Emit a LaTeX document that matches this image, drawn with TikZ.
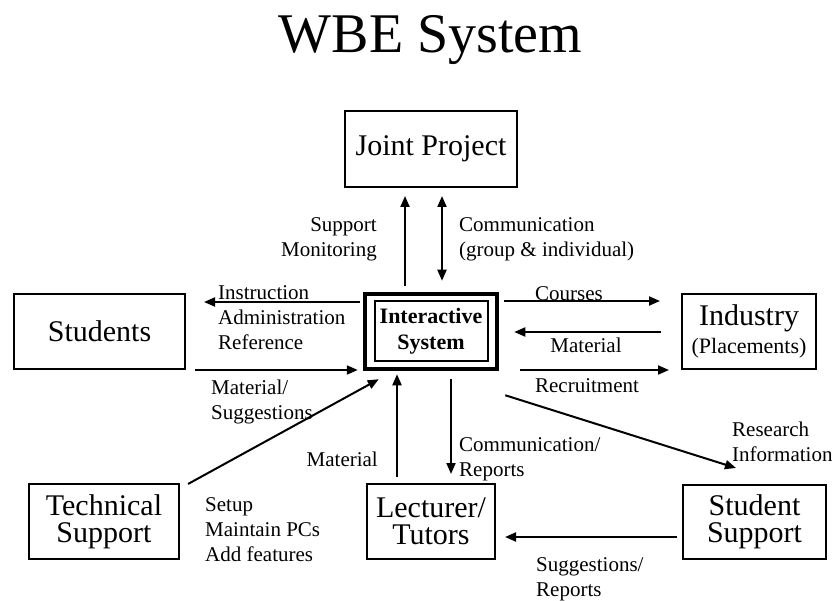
\documentclass[tikz,border=0pt]{standalone}
\usepackage{fontspec}
\setmainfont{Liberation Serif}
\usetikzlibrary{arrows.meta,calc}
\begin{document}
\begin{tikzpicture}[x=1pt,y=-1pt,
  box/.style={draw,line width=2pt,inner sep=0pt,align=center,font=\fontsize{30}{30}\selectfont},
  arr/.style={line width=2pt,-{Triangle[length=11pt,width=9pt]}},
  darr/.style={line width=2pt,{Triangle[length=11pt,width=9pt]}-{Triangle[length=11pt,width=9pt]}},
  lbl/.style={inner sep=0pt,font=\fontsize{21}{25}\selectfont}]
\useasboundingbox[fill=white] (0,0) rectangle (832,601);
% title
\node[inner sep=0pt,font=\fontsize{56}{56}\selectfont,anchor=base] (title) at (430.5,53) {WBE System};
% boxes
\node[box,minimum width=172pt,minimum height=76pt] (jp) at (431,149) {Joint Project};
\node[box,minimum width=171pt,minimum height=75pt] (st) at (99.5,331.5) {Students};
\node[box,minimum width=134pt,minimum height=75pt] (ind) at (749,331.5) {Industry\\[-2pt]{\fontsize{22}{22}\selectfont (Placements)}};
\node[box,minimum width=150pt,minimum height=75pt] (ts) at (104,521.5) {Technical\\[-3pt]Support};
\node[box,minimum width=128pt,minimum height=75pt] (lt) at (431,521.5) {Lecturer/\\[-3pt]Tutors};
\node[box,minimum width=143pt,minimum height=74pt] (ss) at (754.5,522) {Student\\[-3pt]Support};
% central
\node[draw,line width=4.5pt,minimum width=132pt,minimum height=75pt,inner sep=0pt] (ctr) at (431,331.5) {};
\node[draw,line width=2pt,minimum width=113pt,minimum height=60pt,inner sep=0pt,align=center,
  font=\fontsize{22}{26}\selectfont\bfseries] (ctrin) at (431,331) {Interactive\\System};
% arrows
\draw[arr] ($(ctr.north)+(-26,-6)$) -- ($(jp.south)+(-26,8)$);
\draw[darr] ($(jp.south)+(11,8)$) -- ($(ctr.north)+(11,-11)$);
\draw[arr] ($(ctr.west)+(-3,-29.5)$) -- ($(st.east)+(18,-29.5)$);
\draw[arr] ($(st.east)+(9,38.5)$) -- ($(ctr.west)+(-5,38.5)$);
\draw[arr] ($(ctr.east)+(5,-30.5)$) -- ($(ind.west)+(-21,-30.5)$);
\draw[arr] ($(ind.west)+(-20,0.5)$) -- ($(ctr.east)+(15,0.5)$);
\draw[arr] ($(ctr.east)+(21,38.5)$) -- ($(ind.west)+(-12,38.5)$);
\draw[arr] ($(ctr.south east)+(6,24)$) -- ($(ss.north west)+(54,-16)$);
\draw[arr] ($(ctr.south)+(20,8)$) -- ($(lt.north)+(20,-9)$);
\draw[arr] ($(lt.north)+(-34,-6)$) -- ($(ctr.south)+(-34,3)$);
\draw[arr] ($(ts.north east)+(8,1)$) -- ($(ctr.south west)+(16,8)$);
\draw[arr] ($(ss.west)+(-5,15)$) -- ($(lt.east)+(9,15.5)$);
% labels
\node[lbl,anchor=north east,align=right] (l1) at (377,217) {Support\\Monitoring};
\node[lbl,anchor=north west,align=left] (l2) at (459,217) {Communication\\(group \& individual)};
\node[lbl,anchor=north west,align=left] (l3) at (218,285) {Instruction\\Administration\\Reference};
\node[lbl,anchor=north west,align=left] (l4) at (211,380) {Material/\\Suggestions};
\node[lbl,anchor=north] (l5) at (569,286) {Courses};
\node[lbl,anchor=north] (l6) at (586,338) {Material};
\node[lbl,anchor=north] (l7) at (587,378) {Recruitment};
\node[lbl,anchor=north west,align=left] (l8) at (732,422) {Research\\Information};
\node[lbl,anchor=north west,align=left] (l9) at (459,437) {Communication/\\Reports};
\node[lbl,anchor=north east] (l10) at (378,452) {Material};
\node[lbl,anchor=north west,align=left] (l11) at (205,497) {Setup\\Maintain PCs\\Add features};
\node[lbl,anchor=north west,align=left] (l12) at (536,557) {Suggestions/\\Reports};
\end{tikzpicture}
\end{document}
